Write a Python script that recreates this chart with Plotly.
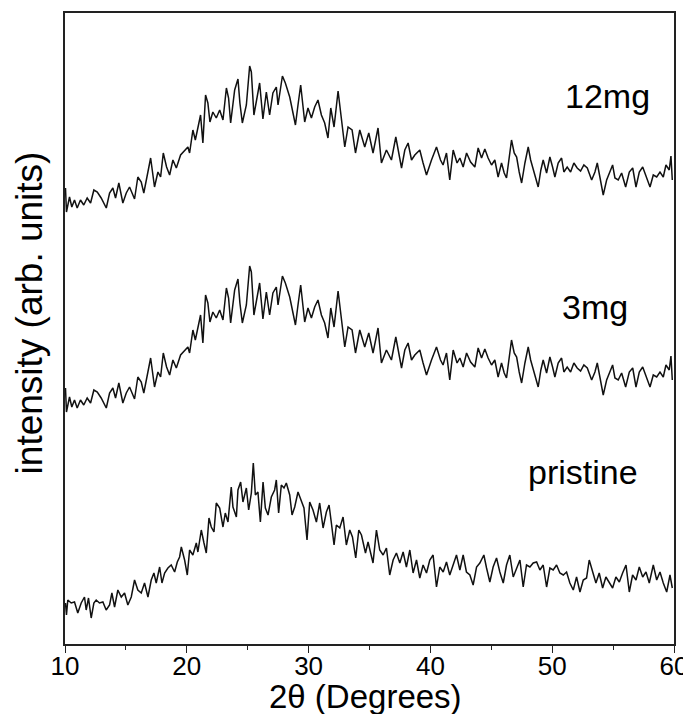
import plotly.graph_objects as go

# ---------------- data ----------------
two_theta_doped = [
    10.04, 10.12, 10.37, 10.56, 10.78, 11.00, 11.27, 11.54, 11.82, 12.10,
    12.37, 12.65, 12.97, 13.39, 13.66, 13.93, 14.15, 14.42, 14.75, 15.03,
    15.30, 15.71, 15.98, 16.26, 16.47, 16.75, 17.03, 17.35, 17.63, 17.85,
    18.07, 18.34, 18.59, 18.86, 19.14, 19.49, 19.82, 20.09, 20.23, 20.50,
    20.70, 20.91, 21.13, 21.32, 21.54, 21.73, 21.90, 22.14, 22.42, 22.70,
    22.97, 23.25, 23.43, 23.60, 23.93, 24.20, 24.36, 24.56, 24.89, 25.16,
    25.30, 25.51, 25.79, 25.98, 26.25, 26.53, 26.80, 27.07, 27.35, 27.49,
    27.85, 28.09, 28.45, 28.64, 28.92, 29.13, 29.35, 29.68, 29.95, 30.23,
    30.50, 30.77, 31.05, 31.32, 31.59, 31.82, 32.09, 32.42, 32.70, 32.97,
    33.24, 33.57, 33.85, 34.20, 34.61, 34.94, 35.29, 35.43, 35.70, 35.98,
    36.39, 36.80, 37.16, 37.63, 37.90, 38.17, 38.45, 38.72, 39.13, 39.40,
    39.68, 40.09, 40.50, 40.83, 41.04, 41.32, 41.59, 41.87, 42.19, 42.42,
    42.69, 42.97, 43.30, 43.65, 43.92, 44.20, 44.47, 44.74, 45.02, 45.29,
    45.56, 45.84, 46.06, 46.25, 46.47, 46.66, 46.88, 47.08, 47.29, 47.49,
    47.76, 48.03, 48.23, 48.44, 48.85, 49.07, 49.26, 49.54, 49.81, 50.03,
    50.22, 50.49, 50.77, 50.96, 51.23, 51.51, 51.78, 52.05, 52.33, 52.60,
    52.88, 53.24, 53.51, 53.70, 53.92, 54.19, 54.47, 54.68, 54.96, 55.15,
    55.42, 55.70, 56.03, 56.33, 56.61, 56.88, 57.15, 57.43, 57.70, 58.03,
    58.30, 58.58, 58.85, 59.12, 59.34, 59.61, 59.75, 59.86,
]

intensity_3mg = [
    267, 243, 258, 248, 255, 247, 255, 250, 257, 252,
    265, 263, 257, 247, 262, 267, 257, 272, 252, 262,
    268, 256, 278, 273, 262, 278, 297, 268, 283, 278,
    302, 288, 280, 295, 287, 300, 305, 308, 302, 325,
    315, 328, 340, 312, 360, 352, 333, 343, 337, 345,
    335, 367, 357, 332, 365, 376, 352, 332, 350, 389,
    383, 340, 357, 372, 336, 363, 340, 362, 368, 350,
    379, 372, 358, 345, 330, 350, 370, 333, 347, 337,
    348, 355, 340, 332, 317, 347, 328, 364, 335, 308,
    328, 325, 302, 325, 308, 322, 302, 310, 327, 292,
    305, 295, 318, 287, 305, 312, 295, 300, 305, 292,
    280, 295, 308, 295, 290, 302, 275, 305, 292, 297,
    288, 302, 293, 288, 307, 297, 306, 297, 290, 295,
    278, 292, 282, 277, 295, 315, 302, 298, 283, 272,
    292, 308, 295, 285, 268, 285, 295, 282, 298, 288,
    278, 292, 297, 283, 288, 283, 292, 287, 284, 290,
    287, 275, 283, 292, 278, 260, 275, 282, 290, 277,
    275, 282, 268, 283, 287, 268, 283, 288, 278, 268,
    280, 278, 283, 278, 290, 285, 299, 275,
]

intensity_12mg = [
    467, 443, 458, 448, 455, 447, 455, 450, 457, 452,
    465, 463, 457, 447, 462, 467, 457, 472, 452, 462,
    468, 456, 478, 473, 462, 478, 497, 468, 483, 478,
    502, 488, 480, 495, 487, 500, 505, 508, 502, 525,
    515, 528, 540, 512, 560, 552, 533, 543, 537, 545,
    535, 567, 557, 532, 565, 576, 552, 532, 550, 589,
    583, 540, 557, 572, 536, 563, 540, 562, 568, 550,
    579, 572, 558, 545, 530, 550, 570, 533, 547, 537,
    548, 555, 540, 532, 517, 547, 528, 564, 535, 508,
    528, 525, 502, 525, 508, 522, 502, 510, 527, 492,
    505, 495, 518, 487, 505, 512, 495, 500, 505, 492,
    480, 495, 508, 495, 490, 502, 475, 505, 492, 497,
    488, 502, 493, 488, 507, 497, 506, 497, 490, 495,
    478, 492, 482, 477, 495, 515, 502, 498, 483, 472,
    492, 508, 495, 485, 468, 485, 495, 482, 498, 488,
    478, 492, 497, 483, 488, 483, 492, 487, 484, 490,
    487, 475, 483, 492, 478, 460, 475, 482, 490, 477,
    475, 482, 468, 483, 487, 468, 483, 488, 478, 468,
    480, 478, 483, 478, 490, 485, 499, 475,
]

two_theta_pristine = [
    10.04, 10.12, 10.23, 10.51, 10.78, 11.05, 11.33, 11.60, 11.74, 11.93,
    12.15, 12.37, 12.56, 12.83, 13.11, 13.38, 13.66, 13.85, 14.07, 14.34,
    14.62, 14.89, 15.16, 15.44, 15.71, 15.98, 16.26, 16.53, 16.81, 17.08,
    17.30, 17.49, 17.77, 17.96, 18.18, 18.45, 18.72, 19.00, 19.22, 19.41,
    19.55, 19.82, 20.04, 20.23, 20.50, 20.78, 20.91, 21.19, 21.41, 21.60,
    21.82, 22.01, 22.23, 22.42, 22.70, 22.97, 23.16, 23.38, 23.65, 23.79,
    24.07, 24.20, 24.42, 24.61, 24.89, 25.08, 25.30, 25.46, 25.63, 25.84,
    26.04, 26.26, 26.45, 26.67, 26.94, 27.21, 27.35, 27.54, 27.76, 27.98,
    28.17, 28.45, 28.64, 28.86, 29.13, 29.41, 29.62, 29.87, 30.09, 30.36,
    30.64, 30.91, 31.19, 31.46, 31.68, 31.87, 32.09, 32.28, 32.56, 32.83,
    33.10, 33.38, 33.60, 33.87, 34.12, 34.34, 34.67, 34.88, 35.29,
    35.57, 35.84, 36.12, 36.39, 36.66, 36.94, 37.21, 37.49, 37.76, 38.03,
    38.31, 38.58, 38.86, 39.13, 39.40, 39.68, 39.95, 40.22, 40.50, 40.77,
    41.05, 41.32, 41.59, 41.87, 42.14, 42.42, 42.69, 42.96, 43.24, 43.51,
    43.79, 44.06, 44.39, 44.61, 44.88, 45.15, 45.43, 45.70, 45.98, 46.25,
    46.52, 46.80, 47.07, 47.35, 47.62, 47.89, 48.17, 48.44, 48.72, 48.99,
    49.26, 49.54, 49.81, 50.08, 50.36, 50.63, 50.91, 51.18, 51.45, 51.73,
    52.00, 52.28, 52.55, 52.82, 53.04, 53.32, 53.59, 53.86, 54.14, 54.41,
    54.69, 54.96, 55.23, 55.51, 55.78, 56.06, 56.33, 56.60, 56.88, 57.15,
    57.43, 57.70, 57.97, 58.30, 58.58, 58.85, 59.12, 59.40, 59.67, 59.86,
]

intensity_pristine = [
    52, 40, 55, 52, 53, 42, 52, 58, 45, 57,
    37, 52, 55, 52, 53, 45, 50, 62, 48, 65,
    58, 62, 50, 58, 75, 65, 62, 72, 58, 75,
    82, 72, 88, 72, 82, 87, 90, 83, 93, 98,
    108, 95, 80, 105, 100, 112, 103, 125, 112, 102,
    137, 128, 123, 152, 147, 128, 142, 133, 168, 148,
    138, 165, 173, 153, 167, 145, 162, 192, 160, 163,
    133, 173, 147, 140, 158, 165, 175, 142, 170, 167,
    172, 160, 140, 148, 163, 153, 147, 115, 153, 145,
    133, 152, 127, 143, 150, 132, 110, 130, 127, 138,
    110, 125, 118, 97, 125, 120, 102, 113, 92,
    125, 105, 100, 107, 80, 95, 102, 92, 103, 88,
    105, 82, 95, 77, 90, 82, 95, 100, 68, 88,
    83, 93, 80, 90, 100, 85, 100, 83, 80, 70,
    88, 92, 100, 87, 73, 88, 97, 83, 72, 90,
    100, 78, 87, 95, 68, 90, 88, 92, 93, 85,
    90, 68, 87, 85, 90, 82, 80, 83, 72, 65,
    78, 63, 75, 77, 95, 83, 72, 82, 67, 78,
    72, 67, 78, 73, 82, 90, 63, 80, 75, 88,
    78, 83, 72, 90, 75, 83, 72, 63, 80, 67,
]

series_labels = ["pristine", "3mg", "12mg"]
x_ticks = [10, 20, 30, 40, 50, 60]
x_title = "2θ (Degrees)"
y_title = "intensity (arb. units)"

# ---------------- figure ----------------
# The page body keeps its default 8 px margin, so the figure is sized to the
# window minus that offset.
FONT = "Liberation Sans, Arial, Helvetica, sans-serif"
line_style = dict(color="#111111", width=1.5)

fig = go.Figure()
fig.add_trace(go.Scatter(x=two_theta_pristine, y=intensity_pristine, mode="lines",
                         line=line_style, name=series_labels[0]))
fig.add_trace(go.Scatter(x=two_theta_doped, y=intensity_3mg, mode="lines",
                         line=line_style, name=series_labels[1]))
fig.add_trace(go.Scatter(x=two_theta_doped, y=intensity_12mg, mode="lines",
                         line=line_style, name=series_labels[2]))

label_pos = [(52.52, 183), (53.51, 348), (54.58, 559)]
for text, (lx, ly) in zip(series_labels, label_pos):
    fig.add_annotation(x=lx, y=ly, text=text, showarrow=False,
                       xanchor="center", yanchor="middle",
                       font=dict(family=FONT, size=34, color="black"))

# axis titles
fig.add_annotation(xref="paper", yref="paper", x=0.494, y=-0.083,
                   text=x_title, showarrow=False, xanchor="center", yanchor="middle",
                   font=dict(family=FONT, size=33, color="black"))
fig.add_annotation(xref="paper", yref="paper", x=-0.058, y=0.525,
                   text=y_title, showarrow=False, textangle=-90,
                   xanchor="center", yanchor="middle",
                   font=dict(family=FONT, size=37, color="black"))

fig.update_layout(
    width=683, height=706,
    margin=dict(l=57, r=17, t=5, b=70),
    paper_bgcolor="white", plot_bgcolor="white",
    showlegend=False,
    font=dict(family=FONT, color="black"),
    xaxis=dict(
        range=[10, 60], tickvals=x_ticks, ticktext=[str(v) for v in x_ticks],
        ticks="outside", ticklen=7, tickwidth=1.3, tickcolor="#222",
        ticklabelstandoff=-9,
        showline=True, linecolor="#222", linewidth=1.5, mirror=True,
        showgrid=False, zeroline=False, automargin=False,
        tickfont=dict(family=FONT, size=26, color="black"),
        minor=dict(ticks="outside", ticklen=4, tickwidth=1.2, tickcolor="#222",
                   dtick=5, tick0=10, showgrid=False),
    ),
    yaxis=dict(
        range=[11, 642], showticklabels=False, ticks="",
        showline=True, linecolor="#222", linewidth=1.5, mirror=True,
        showgrid=False, zeroline=False, automargin=False,
    ),
)

fig.write_html("out.html")
